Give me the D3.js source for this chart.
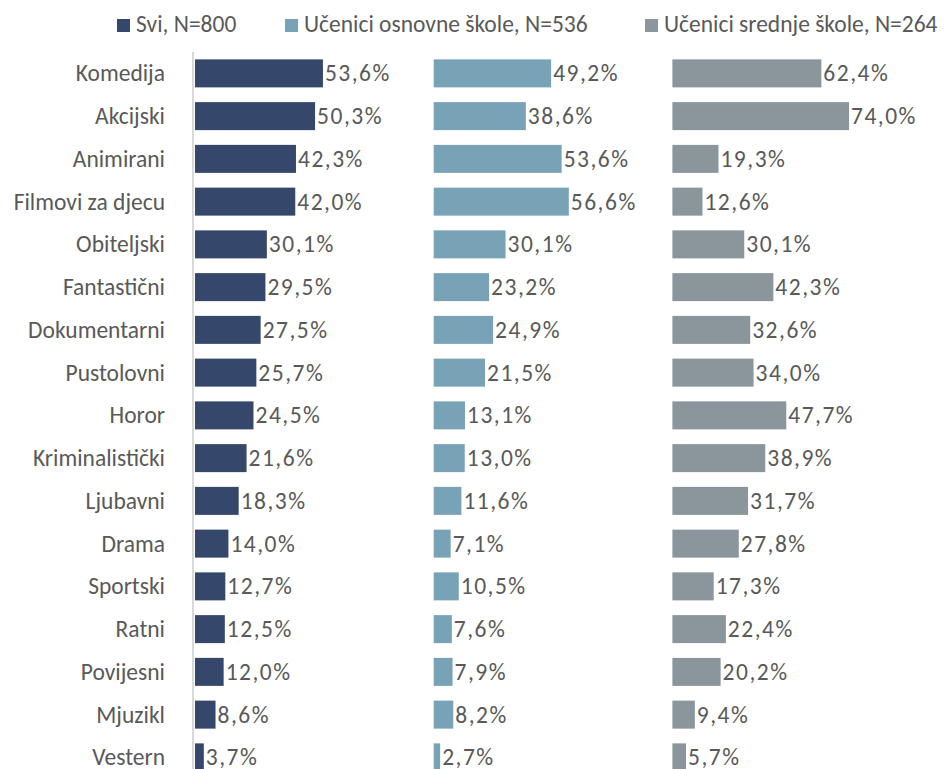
<!DOCTYPE html>
<html>
<head>
<meta charset="utf-8">
<script src="https://cdn.jsdelivr.net/npm/d3@7"></script>
<style>
    body { margin: 0; background: #ffffff; }
    svg { display: block; }
</style>
</head>
<body>
<svg id="chart" width="946" height="769"></svg>
<script>
// Film genres, values in %
var categories = ["Komedija", "Akcijski", "Animirani", "Filmovi za djecu", "Obiteljski", "Fantastični",
    "Dokumentarni", "Pustolovni", "Horor", "Kriminalistički", "Ljubavni", "Drama", "Sportski",
    "Ratni", "Povijesni", "Mjuzikl", "Vestern"];

var seriesNames = ["Svi, N=800", "Učenici osnovne škole, N=536", "Učenici srednje škole, N=264"];

var sviValues = [53.6, 50.3, 42.3, 42.0, 30.1, 29.5, 27.5, 25.7, 24.5, 21.6, 18.3, 14.0, 12.7, 12.5, 12.0, 8.6, 3.7];
var osnovnaValues = [49.2, 38.6, 53.6, 56.6, 30.1, 23.2, 24.9, 21.5, 13.1, 13.0, 11.6, 7.1, 10.5, 7.6, 7.9, 8.2, 2.7];
var srednjaValues = [62.4, 74.0, 19.3, 12.6, 30.1, 42.3, 32.6, 34.0, 47.7, 38.9, 31.7, 27.8, 17.3, 22.4, 20.2, 9.4, 5.7];

var colors = ["#35486b", "#78a2b5", "#8a959c"];

var series = [sviValues, osnovnaValues, srednjaValues];

var svg = d3.select("#chart"),
    font = "Carlito, Lato, sans-serif",
    fontSize = "23.5px",
    textColor = "#595959",
    panelLeft = 194,
    panelWidth = 238.7;

var y = d3.scaleBand()
    .domain(categories)
    .range([52, 52 + 42.75 * categories.length])
    .paddingInner(0.345)
    .paddingOuter(0.1725);

var x = d3.scaleLinear().domain([0, 100]).range([0, panelWidth]);

var fmt = function (v) { return d3.format(".1f")(v).replace(".", ",") + "%"; };

// Category labels
svg.append("g").selectAll("text")
    .data(categories)
    .enter().append("text")
    .attr("x", 165)
    .attr("y", function (d) { return y(d) + y.bandwidth() / 2; })
    .attr("dominant-baseline", "central")
    .attr("text-anchor", "end")
    .style("font-family", font)
    .style("font-size", fontSize)
    .attr("fill", textColor)
    .text(function (d) { return d; });

// Vertical axis line
svg.append("line")
    .attr("x1", 193).attr("x2", 193)
    .attr("y1", 52).attr("y2", 769)
    .attr("stroke", "#d9d9d9")
    .attr("stroke-width", 2);

// Panels
series.forEach(function (values, s) {
    var g = svg.append("g")
        .attr("transform", "translate(" + (panelLeft + s * panelWidth) + ",0)");

    g.selectAll("rect")
        .data(values)
        .enter().append("rect")
        .attr("x", 1)
        .attr("y", function (d, i) { return y(categories[i]); })
        .attr("width", function (d) { return x(d); })
        .attr("height", y.bandwidth())
        .attr("fill", colors[s]);

    g.selectAll("text")
        .data(values)
        .enter().append("text")
        .attr("x", function (d) { return x(d) + 3; })
        .attr("y", function (d, i) { return y(categories[i]) + y.bandwidth() / 2; })
        .attr("dominant-baseline", "central")
        .style("font-family", font)
        .style("font-size", fontSize)
        .style("letter-spacing", "1.5px")
        .attr("fill", textColor)
        .text(fmt);
});

// Legend
var legendX = [117, 285, 645];
var legend = svg.append("g").selectAll("g")
    .data(seriesNames)
    .enter().append("g")
    .attr("transform", function (d, i) { return "translate(" + legendX[i] + ",24)"; });

legend.append("rect")
    .attr("x", 0).attr("y", -5)
    .attr("width", 13).attr("height", 13)
    .attr("fill", function (d, i) { return colors[i]; });

legend.append("text")
    .attr("x", 19)
    .attr("y", 0)
    .attr("dominant-baseline", "central")
    .style("font-family", font)
    .style("font-size", fontSize)
    .attr("fill", textColor)
    .text(function (d) { return d; });
</script>
</body>
</html>
